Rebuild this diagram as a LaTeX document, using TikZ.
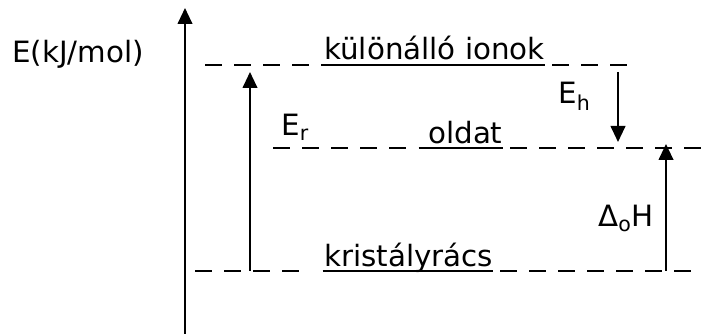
\documentclass[tikz,border=0pt]{standalone}
\usepackage{fontspec}
\setmainfont{DejaVu Sans}
\usetikzlibrary{arrows.meta}

\begin{document}
\begin{tikzpicture}[
            x=0.75pt, y=-0.75pt,
            lvl/.style={line width=1pt, dash pattern=on 12.75pt off 9pt},
            arr/.style={line width=1.5pt, -{Triangle[length=12pt,width=11pt]}},
            uline/.style={line width=1.5pt},
            lab/.style={font=\fontsize{22}{26}\selectfont, inner sep=0pt, anchor=base west}
        ]
        \useasboundingbox (0,0) rectangle (702,334);

        % coordinates
        \coordinate (axbot) at (185,334);
        \coordinate (axtop) at (185,8);

        \coordinate (topL1) at (205,65);
        \coordinate (topL2) at (312,65);
        \coordinate (topR1) at (552,65);
        \coordinate (topR2) at (632,65);

        \coordinate (midL1) at (273,148);
        \coordinate (midL2) at (410,148);
        \coordinate (midR1) at (510,148);
        \coordinate (midR2) at (702,148);

        \coordinate (botL1) at (195,271);
        \coordinate (botL2) at (300,271);
        \coordinate (botR1) at (500,271);
        \coordinate (botR2) at (695,271);

        \coordinate (erbot) at (250,271);
        \coordinate (ertop) at (250,72);
        \coordinate (ehtop) at (618,72);
        \coordinate (ehbot) at (618,142);
        \coordinate (dhbot) at (666,271);
        \coordinate (dhtop) at (666,144);

        % labels
        \node[lab] (unit) at (12,63)   {E(kJ/mol)};
        \node[lab] (ion)  at (324,60)  {különálló ionok};
        \node[lab] (sol)  at (428,144) {oldat};
        \node[lab] (cry)  at (324,267) {kristályrács};

        \node[lab] (er) at (281,136) {E\textsubscript{r}};
        \node[lab] (eh) at (558,104) {E\textsubscript{h}};
        \node[lab] (dh) at (598,227) {Δ\textsubscript{o}H};

        % underlines
        \draw[uline] ([xshift=-2pt,yshift=-3.75pt]ion.base west) -- ([yshift=-3.75pt]ion.base east);
        \draw[uline] ([xshift=-7pt,yshift=-3pt]sol.base west) -- ([yshift=-3pt]sol.base east);
        \draw[uline] ([xshift=-1pt,yshift=-3pt]cry.base west) -- ([yshift=-3pt]cry.base east);

        % levels
        \draw[lvl] (topL1) -- (topL2);
        \draw[lvl] (topR1) -- (topR2);
        \draw[lvl] (midL1) -- (midL2);
        \draw[lvl] (midR1) -- (midR2);
        \draw[lvl] (botL1) -- (botL2);
        \draw[lvl] (botR1) -- (botR2);

        % arrows
        \draw[arr] (axbot) -- (axtop);
        \draw[arr] (erbot) -- (ertop);
        \draw[arr] (ehtop) -- (ehbot);
        \draw[arr] (dhbot) -- (dhtop);
    \end{tikzpicture}
\end{document}
